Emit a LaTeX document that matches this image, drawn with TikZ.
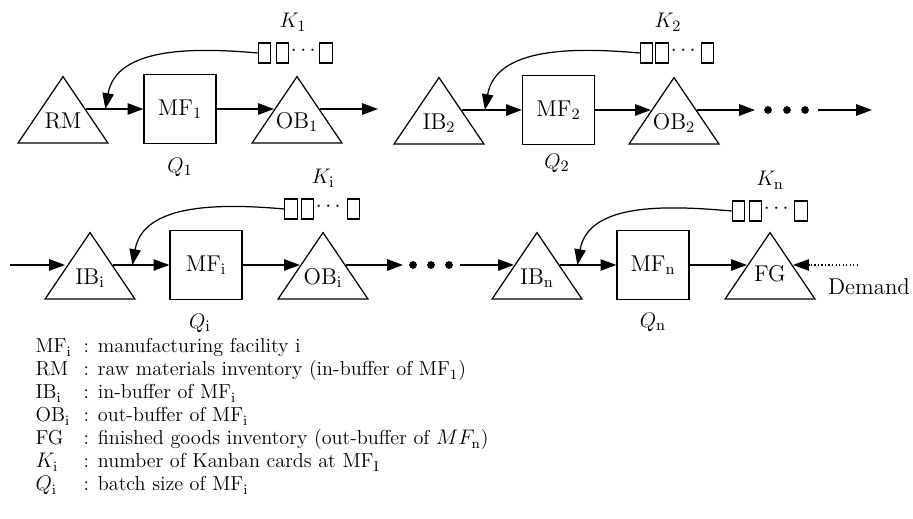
\documentclass[tikz,border=0pt]{standalone}
\usepackage{amsmath}
\usetikzlibrary{arrows.meta,calc,shapes.geometric}

\begin{document}
\begin{tikzpicture}[x=0.02cm, y=-0.02cm, font=\fontsize{13}{15}\selectfont,
  >={Triangle[length=9pt,width=6.5pt]}, line width=0.7pt,
  buffer/.style={draw, isosceles triangle, shape border rotate=90,
    isosceles triangle stretches, minimum width=1.8cm, minimum height=1.33cm,
    inner sep=0pt, anchor=apex},
  buftext/.style={anchor=base, inner sep=0pt},
  facility/.style={draw, rectangle, minimum width=1.44cm, minimum height=1.38cm},
  card/.style={draw, rectangle, minimum width=0.25cm, minimum height=0.4cm,
    inner sep=0pt, line width=0.6pt},
  carddots/.style={inner sep=0pt, text height=0.33em, text depth=-0.17em},
  cardcount/.style={anchor=base, inner sep=0pt},
  kanban/.style={->, out=175, in=80},
  demandline/.style={->, dash pattern=on 0.8pt off 1.2pt, line width=0.6pt},
  legend/.style={anchor=base west, inner sep=0pt, font=\fontsize{11.5}{14}\selectfont}]
  \useasboundingbox (0,0) rectangle (913,519);

  % stage 1
  \node[buffer] (rm) at (63,75) {};
  \node[buftext] (rmtxt) at ($(rm.apex)!0.78!(rm.lower side)$) {RM};
  \node[facility] (mf1) at (180,109) {MF$_1$};
  \node[buffer] (ob1) at (297,75) {};
  \node[buftext] (ob1txt) at ($(ob1.apex)!0.78!(ob1.lower side)$) {OB$_1$};
  \node (q1) at (180,167) {$Q_1$};
  \coordinate (out1) at (378,109);
  \path (mf1.west) ++(-38,0) coordinate (fb1);
  \draw[->] (rm.right side |- mf1.west) -- (mf1.west);
  \draw[->] (mf1.east) -- (mf1.east -| ob1.left side);
  \draw[->] (ob1.right side |- mf1.east) -- (out1);
  \node[card] (k1a) at (264.5,53) {};
  \node[card] (k1b) at (282.5,53) {};
  \node[carddots] (k1d) at (305,53) {$\cdots$};
  \node[card] (k1c) at (326,53) {};
  \node[cardcount] (k1) at (293,28) {$K_1$};
  \draw[kanban] (k1a.west) to (fb1);

  % stage 2
  \node[buffer] (ib2) at (439,76) {};
  \node[buftext] (ib2txt) at ($(ib2.apex)!0.78!(ib2.lower side)$) {IB$_2$};
  \node[facility] (mf2) at (558.5,110) {MF$_2$};
  \node[buffer] (ob2) at (674,76) {};
  \node[buftext] (ob2txt) at ($(ob2.apex)!0.78!(ob2.lower side)$) {OB$_2$};
  \node (q2) at (557,163) {$Q_2$};
  \coordinate (out2) at (755,110);
  \path (mf2.west) ++(-37,0) coordinate (fb2);
  \draw[->] (ib2.right side |- mf2.west) -- (mf2.west);
  \draw[->] (mf2.east) -- (mf2.east -| ob2.left side);
  \draw[->] (ob2.right side |- mf2.east) -- (out2);
  \node[card] (k2a) at (646.5,53) {};
  \node[card] (k2b) at (662,53) {};
  \node[carddots] (k2d) at (685,53) {$\cdots$};
  \node[card] (k2c) at (707.5,53) {};
  \node[cardcount] (k2) at (668,28) {$K_2$};
  \draw[kanban] (k2a.west) to (fb2);

  \fill (768,110) circle (2.2pt) (787,110) circle (2.2pt) (805,110) circle (2.2pt);
  \coordinate (cont1a) at (818,110);
  \coordinate (cont1b) at (872,110);
  \draw[->] (cont1a) -- (cont1b);

  % stage i
  \coordinate (cont2a) at (10,265);
  \coordinate (cont2b) at (65,265);
  \draw[->] (cont2a) -- (cont2b);
  \node[buffer] (ibi) at (90,231) {};
  \node[buftext] (ibitxt) at ($(ibi.apex)!0.78!(ibi.lower side)$) {IB$_\mathrm{i}$};
  \node[facility] (mfi) at (206,265) {MF$_\mathrm{i}$};
  \node[buffer] (obi) at (323,231) {};
  \node[buftext] (obitxt) at ($(obi.apex)!0.78!(obi.lower side)$) {OB$_\mathrm{i}$};
  \node (qi) at (200,323) {$Q_\mathrm{i}$};
  \coordinate (outi) at (403,265);
  \path (mfi.west) ++(-37,0) coordinate (fbi);
  \draw[->] (ibi.right side |- mfi.west) -- (mfi.west);
  \draw[->] (mfi.east) -- (mfi.east -| obi.left side);
  \draw[->] (obi.right side |- mfi.east) -- (outi);
  \node[card] (kia) at (291,209) {};
  \node[card] (kib) at (307.5,209) {};
  \node[carddots] (kid) at (330,209) {$\cdots$};
  \node[card] (kic) at (353.5,209) {};
  \node[cardcount] (ki) at (323,184) {$K_\mathrm{i}$};
  \draw[kanban] (kia.west) to (fbi);

  \fill (413,265) circle (2.2pt) (431,265) circle (2.2pt) (449,265) circle (2.2pt);
  \coordinate (cont3a) at (460,265);

  % stage n
  \node[buffer] (ibn) at (537,231) {};
  \node[buftext] (ibntxt) at ($(ibn.apex)!0.78!(ibn.lower side)$) {IB$_\mathrm{n}$};
  \node[facility] (mfn) at (653,265) {MF$_\mathrm{n}$};
  \node[buffer] (fg) at (770,231) {};
  \node[buftext] (fgtxt) at ($(fg.apex)!0.74!(fg.lower side)$) {FG};
  \node (qn) at (653,322) {$Q_\mathrm{n}$};
  \path (mfn.west) ++(-39,0) coordinate (fbn);
  \draw[->] (cont3a) -- (cont3a -| ibn.left side);
  \draw[->] (ibn.right side |- mfn.west) -- (mfn.west);
  \draw[->] (mfn.east) -- (mfn.east -| fg.left side);
  \node[card] (kna) at (738.5,211) {};
  \node[card] (knb) at (755.5,211) {};
  \node[carddots] (knd) at (778,211) {$\cdots$};
  \node[card] (knc) at (801,211) {};
  \node[cardcount] (kn) at (770,186) {$K_\mathrm{n}$};
  \draw[kanban] (kna.west) to (fbn);

  \coordinate (dem) at (858,265);
  \draw[demandline] (dem) -- (dem -| fg.right side);
  \node (demand) at (869,287) {Demand};

  % legend
  \node[legend] (leg1) at (35,353) {\makebox[0.96cm][l]{MF$_\mathrm{i}$}: manufacturing facility i};
  \node[legend] (leg2) at (35,376) {\makebox[0.96cm][l]{RM}: raw materials inventory (in-buffer of MF$_1$)};
  \node[legend] (leg3) at (35,399) {\makebox[0.96cm][l]{IB$_\mathrm{i}$}: in-buffer of MF$_\mathrm{i}$};
  \node[legend] (leg4) at (35,422) {\makebox[0.96cm][l]{OB$_\mathrm{i}$}: out-buffer of MF$_\mathrm{i}$};
  \node[legend] (leg5) at (35,445) {\makebox[0.96cm][l]{FG}: finished goods inventory (out-buffer of $MF_\mathrm{n}$)};
  \node[legend] (leg6) at (35,468) {\makebox[0.96cm][l]{$K_\mathrm{i}$}: number of Kanban cards at MF$_\mathrm{I}$};
  \node[legend] (leg7) at (35,491) {\makebox[0.96cm][l]{$Q_\mathrm{i}$}: batch size of MF$_\mathrm{i}$};
\end{tikzpicture}
\end{document}
